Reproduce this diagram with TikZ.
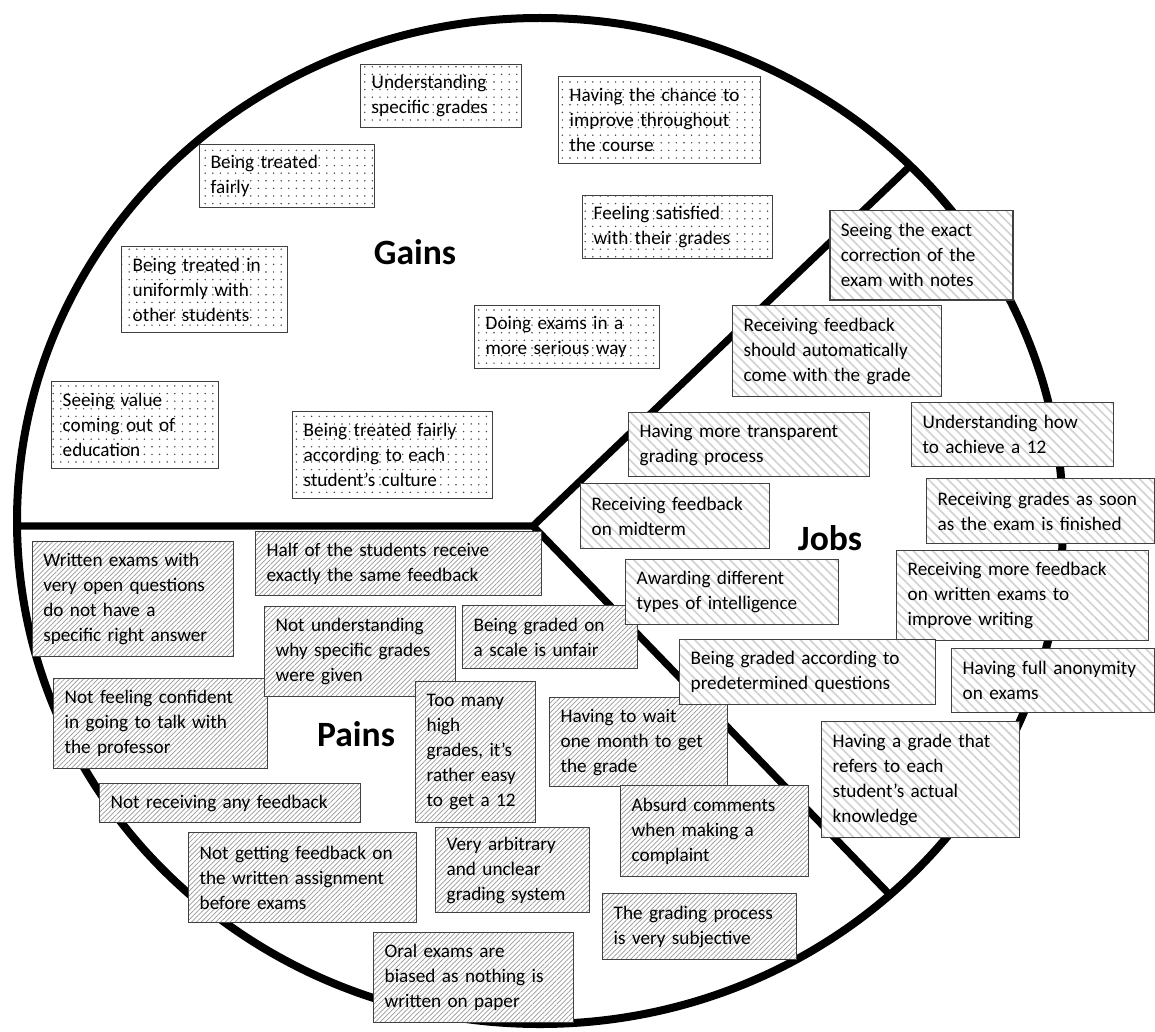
\documentclass[tikz,border=0pt]{standalone}
\usepackage{fontspec}
\setmainfont{Carlito}
\usetikzlibrary{patterns.meta}

\begin{document}
\begin{tikzpicture}[x=0.5pt,y=-0.5pt,font=\fontsize{9.6pt}{12.5pt}\selectfont]
  \tikzstyle{box}=[draw=black!75,line width=0.7pt,anchor=north west,align=left,inner xsep=5.5pt,inner ysep=0pt,preaction={fill=white}]
  \tikzstyle{gain}=[box,pattern={Dots[radius=0.4pt,distance=3.8pt]},pattern color=black!75]
  \tikzstyle{job}=[box,pattern={Lines[angle=-45,distance=3.4pt,line width=0.8pt]},pattern color=black!18]
  \tikzstyle{pain}=[box,pattern={Lines[angle=45,distance=1.7pt,line width=0.35pt]},pattern color=black!40]
  \tikzstyle{area}=[font=\fontsize{17.8pt}{20pt}\selectfont\bfseries]
  \tikzstyle{rim}=[line width=3.6pt]
  \useasboundingbox (0,0) rectangle (1155,1032);

  \draw[line width=4pt] (540,521) ellipse [x radius=261.5pt,y radius=251.5pt];
  \coordinate (hub) at (533,526);
  \coordinate (rimW) at (17,526);
  \coordinate (rimNE) at (910,166);
  \coordinate (rimSE) at (890,895);
  \draw[rim] (rimW) -- (hub) -- (rimNE);
  \draw[rim] (hub) -- (rimSE);

  \node[gain,text width=69.5pt,minimum height=31.5pt] (understand) at (360,64) {Understanding\\specific grades};
  \node[gain,text width=90pt,minimum height=43.5pt] (improve) at (558,76) {Having the chance to\\improve throughout\\the course};
  \node[gain,text width=76.5pt,minimum height=31.5pt] (fairly) at (199,144) {Being treated\\fairly};
  \node[gain,text width=72pt,minimum height=43pt] (uniform) at (121,246) {Being treated in\\uniformly with\\other students};
  \node[gain,text width=72.5pt,minimum height=43.5pt] (value) at (51,381) {Seeing value\\coming out of\\education};
  \node[gain,text width=89pt,minimum height=43.5pt] (culture) at (292,411) {Being treated fairly\\according to each\\student's culture};
  \node[gain,text width=81.5pt,minimum height=31.5pt] (serious) at (474,305) {Doing exams in a\\more serious way};
  \node[gain,text width=84pt,minimum height=31.5pt] (satisfied) at (582,195) {Feeling satisfied\\with their grades};

  \node[pain,text width=89.5pt,minimum height=57.5pt] (openq) at (32,541) {Written exams with\\very open questions\\do not have a\\specific right answer};
  \node[pain,text width=132pt,minimum height=32pt] (samefb) at (255,531) {Half of the students receive\\exactly the same feedback};
  \node[pain,text width=96pt,minimum height=45pt] (confident) at (53,678) {Not feeling confident\\in going to talk with\\the professor};
  \node[pain,text width=84.5pt,minimum height=45pt] (whygrades) at (264,606) {Not understanding\\why specific grades\\were given};
  \node[pain,text width=76.5pt,minimum height=31.5pt] (scale) at (462,605) {Being graded on\\a scale is unfair};
  \node[pain,text width=49pt,minimum height=70.5pt] (highgrades) at (415,681) {Too many\\high\\grades, it's\\rather easy\\to get a 12};
  \node[pain,text width=78pt,minimum height=44.5pt] (wait) at (549,697) {Having to wait\\one month to get\\the grade};
  \node[pain,text width=119.5pt,minimum height=19.5pt] (nofb) at (99,783) {Not receiving any feedback};
  \node[pain,text width=103pt,minimum height=45pt] (assignment) at (188,832) {Not getting feedback on\\the written assignment\\before exams};
  \node[pain,text width=66pt,minimum height=42.5pt] (arbitrary) at (435,827) {Very arbitrary\\and unclear\\grading system};
  \node[pain,text width=89pt,minimum height=45pt] (oral) at (373,932) {Oral exams are\\biased as nothing is\\written on paper};
  \node[pain,text width=83pt,minimum height=45.5pt] (absurd) at (620,785) {Absurd comments\\when making a\\complaint};
  \node[pain,text width=86pt,minimum height=33pt] (subjective) at (602,893) {The grading process\\is very subjective};

  \node[job,text width=80.5pt,minimum height=44.5pt] (correction) at (829,210) {Seeing the exact\\correction of the\\exam with notes};
  \node[job,text width=93.5pt,minimum height=45.5pt] (autofb) at (732,305) {Receiving feedback\\should automatically\\come with the grade};
  \node[job,text width=109.5pt,minimum height=32pt] (transparent) at (628,412) {Having more transparent\\grading process};
  \node[job,text width=90pt,minimum height=32pt] (achieve) at (911,402) {Understanding how\\to achieve a 12};
  \node[job,text width=83.5pt,minimum height=32.5pt] (midterm) at (580,483) {Receiving feedback\\on midterm};
  \node[job,text width=103pt,minimum height=32.5pt] (soon) at (926,478) {Receiving grades as soon\\as the exam is finished};
  \node[job,text width=95.5pt,minimum height=32.5pt] (intelligence) at (625,559) {Awarding different\\types of intelligence};
  \node[job,text width=115pt,minimum height=45pt] (writing) at (896,550) {Receiving more feedback\\on written exams to\\improve writing};
  \node[job,text width=117pt,minimum height=32.5pt] (predetermined) at (679,639) {Being graded according to\\predetermined questions};
  \node[job,text width=90.5pt,minimum height=32pt] (anonymity) at (951,648) {Having full anonymity\\on exams};
  \node[job,text width=88pt,minimum height=58pt] (knowledge) at (821,721) {Having a grade that\\refers to each\\student's actual\\knowledge};

  \node[area] (gains) at (415,252) {Gains};
  \node[area] (pains) at (356,734) {Pains};
  \node[area] (jobs) at (830,538) {Jobs};
\end{tikzpicture}
\end{document}
